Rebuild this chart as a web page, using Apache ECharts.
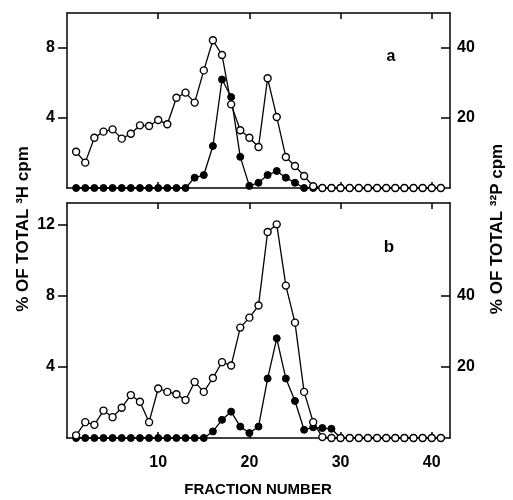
<!DOCTYPE html>
<html><head><meta charset="utf-8">
<script src="https://cdn.jsdelivr.net/npm/echarts@6/dist/echarts.min.js"></script>
<style>html,body{margin:0;padding:0;background:#fff}#c{width:513px;height:500px}</style>
</head><body><div id="c"></div>
<script>
// Fraction numbers
var fractions = [1,2,3,4,5,6,7,8,9,10,11,12,13,14,15,16,17,18,19,20,21,22,23,24,25,26,27,28,29,30,31,32,33,34,35,36,37,38,39,40,41];
// Panel a: % of total 3H cpm (open circles, left axis)
var panelA_H3 = [2.07,1.45,2.87,3.22,3.35,2.82,3.1,3.58,3.54,3.89,3.64,5.16,5.45,4.88,6.72,8.44,7.6,4.78,3.3,2.87,2.34,6.27,4.06,1.77,1.26,0.69,0.1,0,0,0,0,0,0,0,0,0,0,0,0,0,0];
// Panel a: % of total 32P cpm (filled circles, right axis)
var panelA_P32 = [0,0,0,0,0,0,0,0,0,0,0,0,0,2.95,3.7,12,31,26,8.9,0.6,1.5,3.7,4.86,2.95,1.5,0,0,0,0,0,0,0,0,0,0,0,0,0,0,0,0];
// Panel b: % of total 3H cpm
var panelB_H3 = [0.15,0.89,0.74,1.54,1.17,1.7,2.41,2.04,0.89,2.78,2.59,2.46,2.13,3.15,2.59,3.37,4.26,4.07,6.2,6.76,7.44,11.57,12.0,8.56,6.48,2.59,0.89,0.05,0,0,0,0,0,0,0,0,0,0,0,0,0];
// Panel b: % of total 32P cpm
var panelB_P32 = [0,0,0,0,0,0,0,0,0,0,0,0,0,0,0,1.85,5.1,7.4,3.2,1.4,3.2,16.7,28,16.7,10.4,2.3,3,2.8,2.6,0,0,0,0,0,0,0,0,0,0,0,0];
// Tick labels
var xTicks = [10,20,30,40];
var aLeftTicks = [4,8];
var aRightTicks = [20,40];
var bLeftTicks = [4,8,12];
var bRightTicks = [20,40];

function pairs(ys){ return fractions.map(function(f,i){ return [f, ys[i]]; }); }

var FONT = '"Liberation Sans", Arial, Helvetica, sans-serif';
var lineStyle = {color:'#000', width:1.5};
var tickLbl = {fontFamily: FONT, fontWeight:'bold', fontSize:16, color:'#000'};

function xAx(grid, pos, showLabel){
  return {
    type:'value', gridIndex:grid, position:pos, min:0, max:42,
    axisLine:{show:true, onZero:false, lineStyle:lineStyle},
    axisTick:{show:true, inside:true, length:6, customValues:xTicks, lineStyle:lineStyle},
    axisLabel: showLabel ? Object.assign({show:true, margin:17, customValues:xTicks}, tickLbl) : {show:false},
    splitLine:{show:false}
  };
}
function yAx(grid, pos, max, ticks, inside){
  return {
    type:'value', gridIndex:grid, position:pos, min:0, max:max,
    axisLine:{show:true, onZero:false, lineStyle:lineStyle},
    axisTick:{show:true, inside:inside, length:9, customValues:ticks, lineStyle:lineStyle},
    axisLabel: Object.assign({show:true, margin: inside ? 7 : 12, customValues:ticks}, tickLbl),
    splitLine:{show:false}
  };
}
function openSeries(x, y, data){
  return {type:'line', xAxisIndex:x, yAxisIndex:y, data:pairs(data), symbol:'circle', symbolSize:7,
    clip:false, z:3, lineStyle:{color:'#000', width:1.3},
    itemStyle:{color:'#fff', borderColor:'#000', borderWidth:1.4}, animation:false};
}
function filledSeries(x, y, data){
  return {type:'line', xAxisIndex:x, yAxisIndex:y, data:pairs(data), symbol:'circle', symbolSize:7,
    clip:false, z:2, lineStyle:{color:'#000', width:1.3},
    itemStyle:{color:'#000', borderColor:'#000', borderWidth:1}, animation:false};
}

var chart = echarts.init(document.getElementById('c'), null, {renderer:'canvas'});
chart.setOption({
  animation:false,
  backgroundColor:'#fff',
  grid:[
    {left:67, top:13, width:383, height:175},
    {left:67, top:203, width:383, height:235}
  ],
  xAxis:[ xAx(0,'bottom',false), xAx(0,'top',false), xAx(1,'bottom',true), xAx(1,'top',false) ],
  yAxis:[ yAx(0,'left',10,aLeftTicks,false), yAx(0,'right',50,aRightTicks,true),
          yAx(1,'left',13.2,bLeftTicks,false), yAx(1,'right',66,bRightTicks,true) ],
  series:[
    filledSeries(0,1,panelA_P32),
    openSeries(0,0,panelA_H3),
    filledSeries(2,3,panelB_P32),
    openSeries(2,2,panelB_H3)
  ],
  graphic:[
    {type:'text', x:391, y:57, style:{text:'a', font:'bold 16px '+FONT, fill:'#000', textAlign:'center', textVerticalAlign:'middle'}},
    {type:'text', x:389, y:247, style:{text:'b', font:'bold 17px '+FONT, fill:'#000', textAlign:'center', textVerticalAlign:'middle'}},
    {type:'text', x:258, y:490, style:{text:'FRACTION NUMBER', font:'bold 15px '+FONT, fill:'#000', textAlign:'center', textVerticalAlign:'middle'}},
    {type:'text', x:23, y:229, rotation:Math.PI/2, style:{text:'% OF TOTAL \u00B3H cpm', font:'bold 17px '+FONT, fill:'#000', textAlign:'center', textVerticalAlign:'middle'}},
    {type:'text', x:497, y:229, rotation:Math.PI/2, style:{text:'% OF TOTAL \u00B3\u00B2P cpm', font:'bold 17px '+FONT, fill:'#000', textAlign:'center', textVerticalAlign:'middle'}}
  ]
});
</script></body></html>
